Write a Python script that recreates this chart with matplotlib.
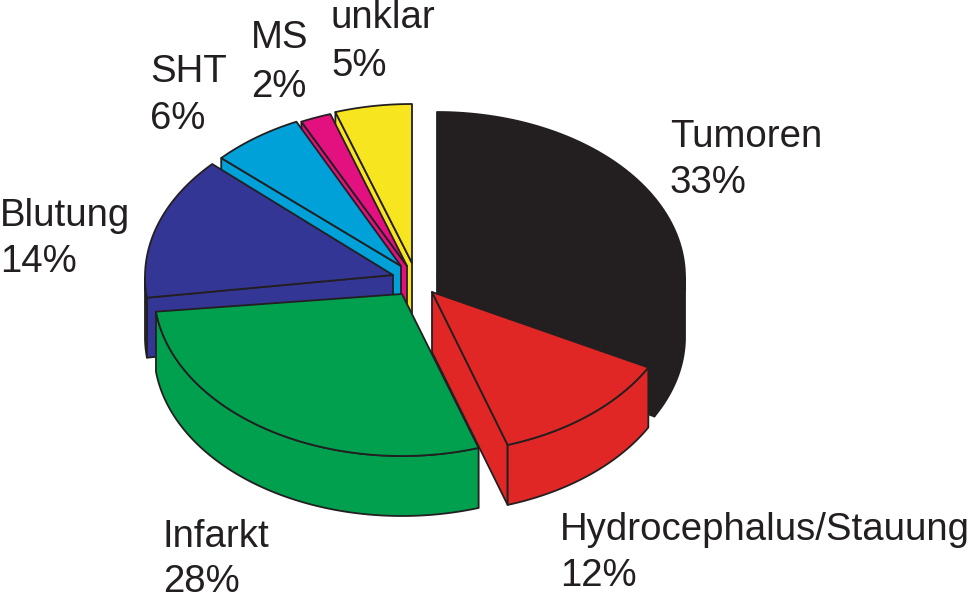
import numpy as np
import matplotlib
matplotlib.use("Agg")
import matplotlib.pyplot as plt
from matplotlib.patches import Polygon

# Data
labels = ["Tumoren", "Hydrocephalus/Stauung", "Infarkt", "Blutung", "SHT", "MS", "unklar"]
values = [33, 12, 28, 14, 6, 2, 5]
colors = ["#231f20", "#e12726", "#00a04f", "#333695", "#00a0d8", "#e2117f", "#f6e51f"]

# Layout (pixel coordinates), one entry per slice
centers = [(437, 277), (431, 288), (402, 291), (393, 277), (402, 271), (407, 271), (412, 269)]
apexes = [(437, 277), (432, 292), (402, 294), (393, 275), (401, 266), (407, 266), (412, 263)]
label_pos = [(670, 147, 193), (560, 540, 586), (163, 547, 592), (0, 226, 272),
             (150, 82, 129), (251, 48, 97), (331, 28, 76)]
draw_order = [6, 5, 4, 3, 0, 2, 1]
RX, RY, DEPTH = 248, 165, 60
EDGE = "#231f20"
LW = 1.3

fig = plt.figure(figsize=(9.69, 5.95), dpi=100)
ax = fig.add_axes([0, 0, 1, 1])
ax.set_xlim(0, 969)
ax.set_ylim(595, 0)
ax.axis("off")

edges = np.concatenate([[0], np.cumsum(values)]) / sum(values) * 2 * np.pi


def add(points, color, z):
    ax.add_patch(Polygon(points, closed=True, facecolor=color, edgecolor=EDGE,
                         linewidth=LW, joinstyle="round", zorder=z))


def arc_points(cx, cy, t0, t1):
    t = np.linspace(t0, t1, 80)
    return np.column_stack([cx + RX * np.sin(t), cy - RY * np.cos(t)])


down = np.array([0, DEPTH])
for rank, i in enumerate(draw_order):
    t0, t1 = edges[i], edges[i + 1]
    cx, cy = centers[i]
    a_top = np.array(apexes[i], dtype=float)
    arc = arc_points(cx, cy, t0, t1)
    z = 2 + rank
    # radial walls, only where they face the viewer
    if np.sin(t0) < -1e-9:
        add([a_top, arc[0], arc[0] + down, a_top + down], colors[i], z)
    if np.sin(t1) > 1e-9:
        add([a_top, arc[-1], arc[-1] + down, a_top + down], colors[i], z)
    # outer wall, front half of the ellipse only
    f0, f1 = max(t0, np.pi / 2), min(t1, 3 * np.pi / 2)
    if f0 < f1:
        seg = arc_points(cx, cy, f0, f1)
        add(np.vstack([seg, seg[::-1] + down]), colors[i], z)
    add(np.vstack([[a_top], arc]), colors[i], z)

for i, (x, y1, y2) in enumerate(label_pos):
    for y, s in ((y1, labels[i]), (y2, f"{values[i]}%")):
        ax.text(x, y, s, family="Liberation Sans", fontsize=27.6, color=EDGE,
                ha="left", va="baseline", zorder=20)

fig.savefig("out.png", dpi=100)
